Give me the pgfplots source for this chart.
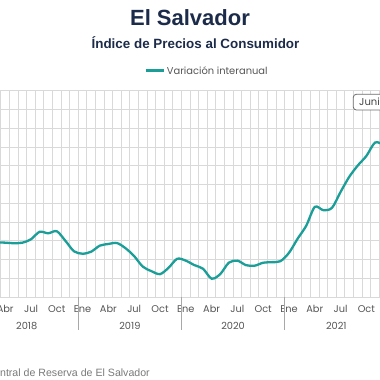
\documentclass[border=0pt]{standalone}
\usepackage{pgfplots}
\pgfplotsset{compat=1.18}
\usepackage{fontspec}
\setmainfont{Liberation Sans}
\newfontfamily\gothic{Poppins}
\definecolor{teal1}{HTML}{1A9E97}
\definecolor{navy}{HTML}{1C2B4A}
\definecolor{gridc}{HTML}{D9D9D9}
\definecolor{labc}{HTML}{555555}
\definecolor{sepc}{HTML}{A8A8A8}
\definecolor{footc}{HTML}{7A7A7A}
\begin{document}
\begin{tikzpicture}
\useasboundingbox (0pt,0pt) rectangle (380pt,380pt);
\clip (0pt,0pt) rectangle (380pt,380pt);
\fill[white] (0pt,0pt) rectangle (380pt,380pt);
\node[anchor=base, inner sep=0, text=navy, font=\bfseries\fontsize{22}{24}\selectfont] at (190pt,354pt) {El Salvador};
\node[anchor=base, inner sep=0, text=navy, font=\bfseries\fontsize{13.4}{15}\selectfont] at (195.5pt,331.7pt) {Índice de Precios al Consumidor};
\draw[teal1, line width=2.5pt] (145.7pt,309.3pt) -- (164.3pt,309.3pt);
\node[anchor=base west, inner sep=0, text=labc, font=\gothic\fontsize{9.9}{11}\selectfont] at (166.7pt,305pt) {Variación interanual};
\begin{axis}[
  at={(0pt,83pt)}, anchor=south west, scale only axis,
  width=380pt, height=206.1pt,
  xmin=2.3953, xmax=46.5814, ymin=-2, ymax=9,
  clip mode=individual,
  axis line style={draw=none},
  major tick length=0pt, minor tick length=0pt,
  ytick={-2,-1,...,9}, yticklabels={},
  ymajorgrids, major grid style={gridc, line width=0.9pt},
  xtick={3,6,...,45},
  xticklabels={Abr,Jul,Oct,Ene,Abr,Jul,Oct,Ene,Abr,Jul,Oct,Ene,Abr,Jul,Oct},
  minor xtick={2.5,3.5,...,46.5},
  xminorgrids, minor grid style={gridc, line width=0.9pt},
  xticklabel style={anchor=base, yshift=-15.8pt, text=labc, font=\gothic\fontsize{9.8}{11}\selectfont},
]
\addplot[teal1, line width=2.3pt, smooth, tension=0.5] coordinates {
(0,0.95) (1,0.95) (2,0.92) (3,0.90) (4,0.87) (5,0.90) (6,1.08) (7,1.48) (8,1.40) (9,1.51)
(10,1.00) (11,0.44) (12,0.31) (13,0.42) (14,0.74) (15,0.83) (16,0.88) (17,0.60) (18,0.18)
(19,-0.38) (20,-0.62) (21,-0.78) (22,-0.44) (23,0.04) (24,-0.06) (25,-0.30) (26,-0.49)
(27,-1.02) (28,-0.78) (29,-0.17) (30,-0.06) (31,-0.30) (32,-0.33) (33,-0.17) (34,-0.14)
(35,-0.09) (36,0.36) (37,1.11) (38,1.80) (39,2.81) (40,2.63) (41,2.76) (42,3.61) (43,4.41)
(44,5.02) (45,5.53) (46,6.24) (47,6.17) (48,6.4)
};
\draw[sepc, line width=0.8pt] (axis cs:11.5,-2) -- ++(0pt,-33pt);
\draw[sepc, line width=0.8pt] (axis cs:23.5,-2) -- ++(0pt,-33pt);
\draw[sepc, line width=0.8pt] (axis cs:35.5,-2) -- ++(0pt,-33pt);
\node[anchor=base, yshift=-32.8pt, text=labc, font=\gothic\fontsize{9.8}{11}\selectfont] at (axis cs:5.5,-2) {2018};
\node[anchor=base, yshift=-32.8pt, text=labc, font=\gothic\fontsize{9.8}{11}\selectfont] at (axis cs:17.5,-2) {2019};
\node[anchor=base, yshift=-32.8pt, text=labc, font=\gothic\fontsize{9.8}{11}\selectfont] at (axis cs:29.5,-2) {2020};
\node[anchor=base, yshift=-32.8pt, text=labc, font=\gothic\fontsize{9.8}{11}\selectfont] at (axis cs:41.5,-2) {2021};
\end{axis}
\draw[fill=white, draw=gray!85!black, line width=0.8pt, rounded corners=3pt] (353.3pt,270pt) rectangle (400pt,285.7pt);
\node[anchor=base west, inner sep=0, text=labc!80!black, font=\gothic\fontsize{10}{11}\selectfont] at (359pt,274.3pt) {Junio};
\node[anchor=base east, inner sep=0, text=footc, font=\fontsize{10.6}{12}\selectfont] at (150pt,4pt) {Fuente: Banco Central de Reserva de El Salvador};
\end{tikzpicture}
\end{document}
